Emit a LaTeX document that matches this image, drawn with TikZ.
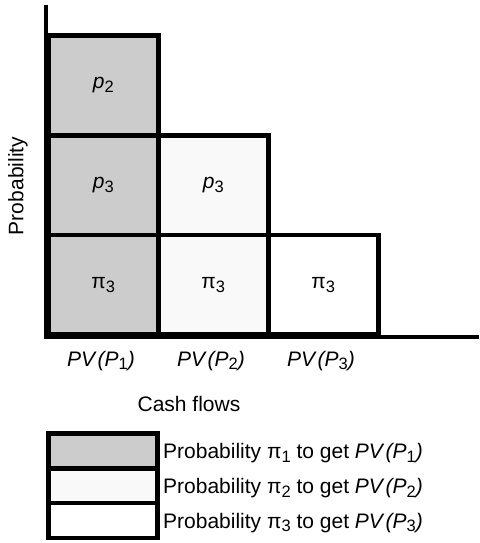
\documentclass[tikz,border=0pt]{standalone}
\usepackage{fontspec}
\setmainfont{Liberation Sans}
\newcommand{\gpi}{π}
% lowered index digit in the body font
\newcommand{\idx}[1]{\raisebox{-3.5pt}{\fontsize{16.5}{18}\selectfont #1}}
\newcommand{\pv}[1]{\textit{PV}\kern1pt\textit{(P}\idx{#1}\textit{)}}
\begin{document}
\begin{tikzpicture}[x=1pt,y=1pt,
  every node/.style={font=\fontsize{21}{25}\selectfont},
  cell/.style={draw=black, line width=4.5pt, minimum width=110pt, minimum height=99.7pt, inner sep=0pt, anchor=south west},
  legbox/.style={draw=black, line width=4.5pt, minimum width=109pt, minimum height=35pt, inner sep=0pt, anchor=south west},
  axis/.style={line width=4.5pt},
  shadeA/.style={fill=gray80},
  shadeB/.style={fill=gray98},
  shadeC/.style={fill=white}
]
\definecolor{gray80}{RGB}{204,204,204}
\definecolor{gray98}{RGB}{249,249,249}
\useasboundingbox (0,0) rectangle (479,543);

% first column: outcome 1
\node[cell, shadeA] (c11) at (46,206) {\gpi\idx{3}};
\node[cell, shadeA] (c12) at (46,305.7) {\textit{p}\idx{3}};
\node[cell, shadeA] (c13) at (46,405.4) {\textit{p}\idx{2}};
% second column: outcome 2
\node[cell, shadeB] (c21) at (156,206) {\gpi\idx{3}};
\node[cell, shadeB] (c22) at (156,305.7) {\textit{p}\idx{3}};
% third column: outcome 3
\node[cell, shadeC] (c31) at (266,206) {\gpi\idx{3}};

% axes
\coordinate (otop) at (46,538);
\coordinate (oorig) at (46,206);
\coordinate (oright) at (479,206);
\draw[axis] (otop) -- (46,203.75);
\draw[axis] (43.75,206) -- (oright);

% axis labels
\node[rotate=90] (ylab) at (18,357) {Probability};
\node (x1) at (101,182) {\pv{1}};
\node (x2) at (211,182) {\pv{2}};
\node (x3) at (321,182) {\pv{3}};
\node (xlab) at (189,139) {Cash flows};

% legend
\node[legbox, shadeA] (l1) at (46,72) {};
\node[legbox, shadeB] (l2) at (46,37) {};
\node[legbox, shadeC] (l3) at (46,2.5) {};
\node[anchor=west, inner sep=0pt] (t1) at (163,89.5) {Probability \gpi\idx{1} to get \pv{1}};
\node[anchor=west, inner sep=0pt] (t2) at (163,54.5) {Probability \gpi\idx{2} to get \pv{2}};
\node[anchor=west, inner sep=0pt] (t3) at (163,20) {Probability \gpi\idx{3} to get \pv{3}};
\end{tikzpicture}
\end{document}
